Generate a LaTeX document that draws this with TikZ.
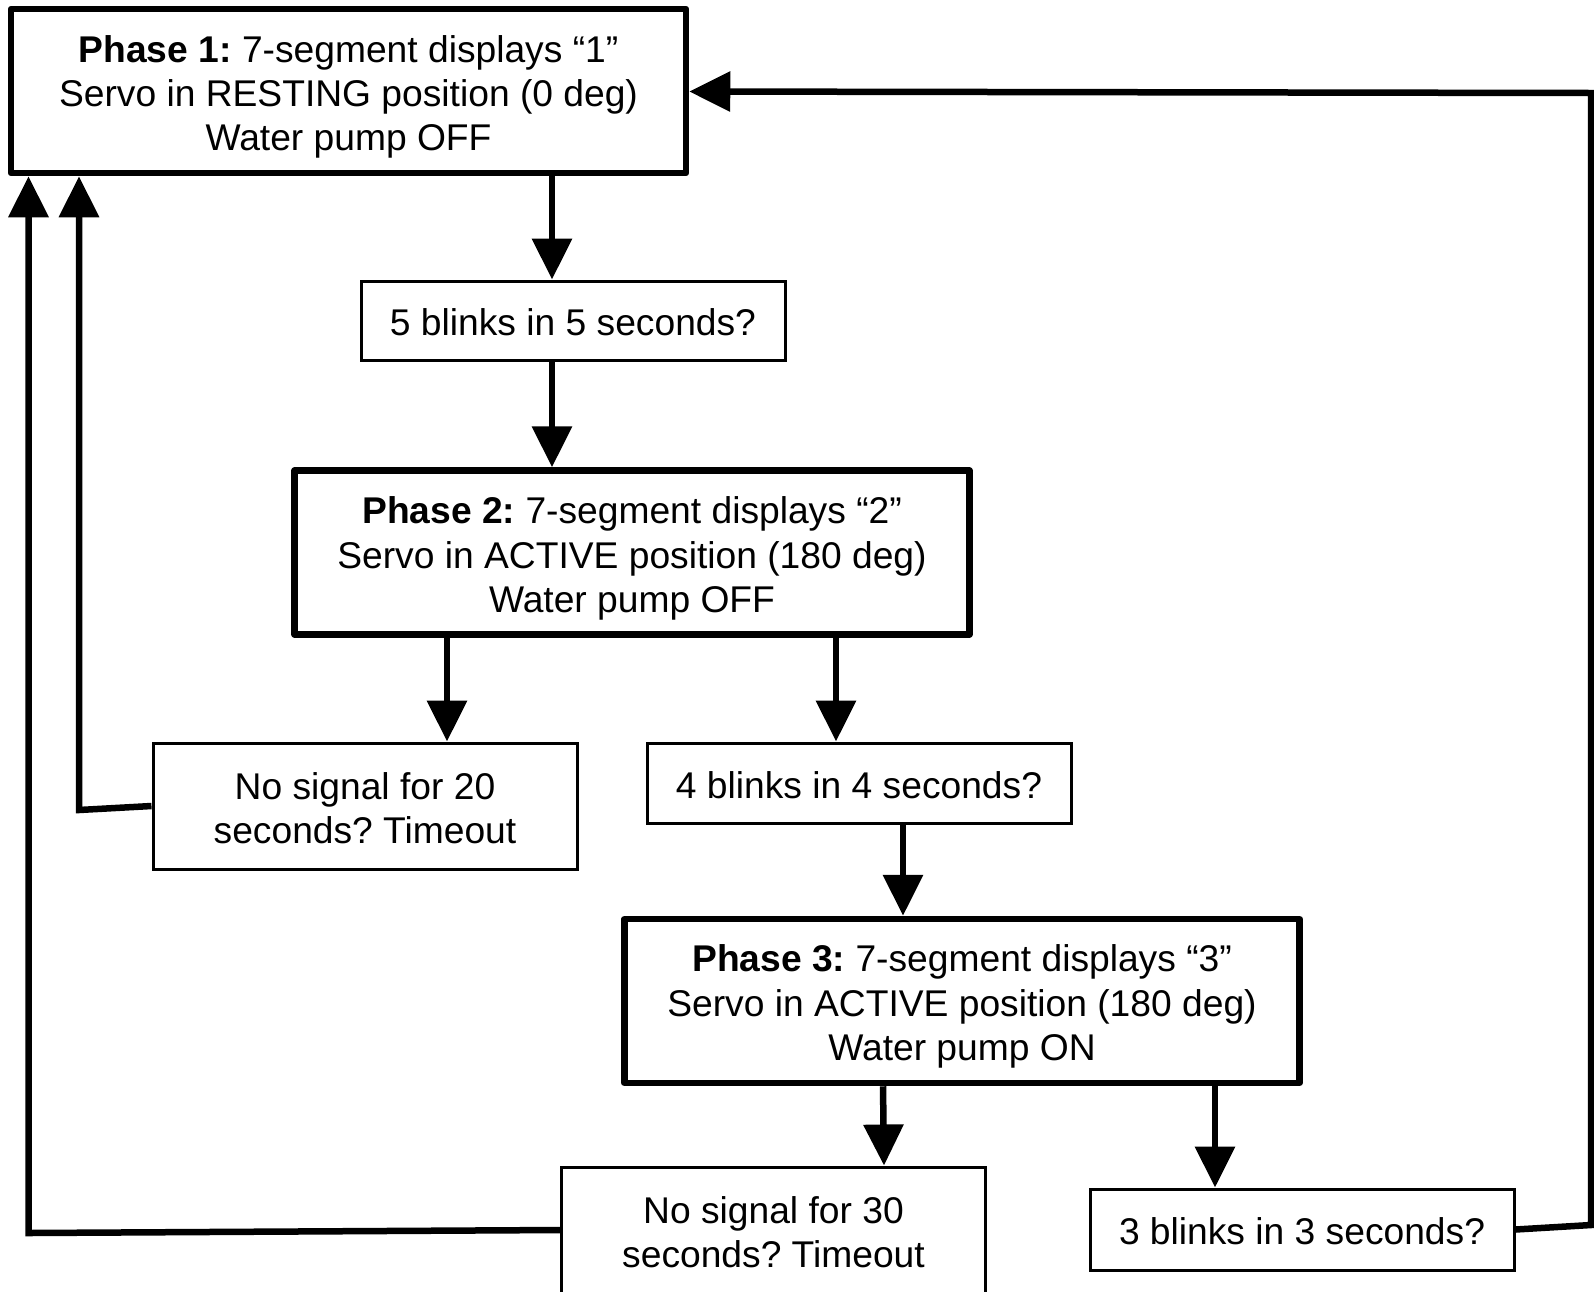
\documentclass[tikz,border=0pt]{standalone}
\usepackage{fontspec}
\setmainfont{Liberation Sans}
\usetikzlibrary{arrows.meta}
\frenchspacing
\begin{document}
\begin{tikzpicture}[x=1pt,y=-1pt,
  every node/.style={font=\fontsize{37.2}{44.3}\selectfont\frenchspacing, align=center, inner sep=0pt},
  phase/.style={draw, line width=6.5pt, line join=round, minimum width=675pt, minimum height=164pt},
  cond/.style={draw, line width=3pt, minimum width=424pt},
  arr/.style={line width=6.5pt, -{Triangle[length=41pt,width=39pt]}}]
\useasboundingbox (0,0) rectangle (1594,1291);
\node[phase] (P1) at (348.5,91) {\rule{0pt}{39pt}\textbf{Phase 1:} 7-segment displays “1”\\Servo in RESTING position (0 deg)\\Water pump OFF};
\node[cond, minimum height=79pt] (B5) at (573,320.5) {\rule{0pt}{31pt}5 blinks in 5 seconds?};
\node[phase] (P2) at (632,552.5) {\rule{0pt}{39pt}\textbf{Phase 2:} 7-segment displays “2”\\Servo in ACTIVE position (180 deg)\\Water pump OFF};
\node[cond, minimum height=126pt] (N20) at (365,806) {\rule{0pt}{32pt}No signal for 20\\seconds? Timeout};
\node[cond, minimum height=80pt] (B4) at (859,783) {\rule{0pt}{31pt}4 blinks in 4 seconds?};
\node[phase] (P3) at (962,1001) {\rule{0pt}{38pt}\textbf{Phase 3:} 7-segment displays “3”\\Servo in ACTIVE position (180 deg)\\Water pump ON};
\node[cond, minimum height=126pt] (N30) at (773.5,1230) {\rule{0pt}{32pt}No signal for 30\\seconds? Timeout};
\node[cond, minimum height=81pt] (B3) at (1302,1229.5) {\rule{0pt}{31pt}3 blinks in 3 seconds?};
\draw[arr] (P1.south -| 552,0) -- (B5.north -| 552,0);
\draw[arr] (B5.south -| 552,0) -- (P2.north -| 552,0);
\draw[arr] (P2.south -| 447,0) -- (N20.north -| 447,0);
\draw[arr] (P2.south -| 836,0) -- (B4.north -| 836,0);
\draw[arr] (B4.south -| 903,0) -- (P3.north -| 903,0);
\draw[arr] (P3.south -| 883,0) -- (N30.north -| 884,0);
\draw[arr] (P3.south -| 1215,0) -- (B3.north -| 1215,0);
\draw[arr] (B3.east) -- (1591,1225) -- (1591,93) -- (P1.east |- 0,91.5);
\draw[arr] (N20.west) -- (79,810) -- (P1.south -| 79,0);
\draw[arr] (N30.west) -- (28.5,1233) -- (P1.south -| 28.5,0);
\end{tikzpicture}
\end{document}
